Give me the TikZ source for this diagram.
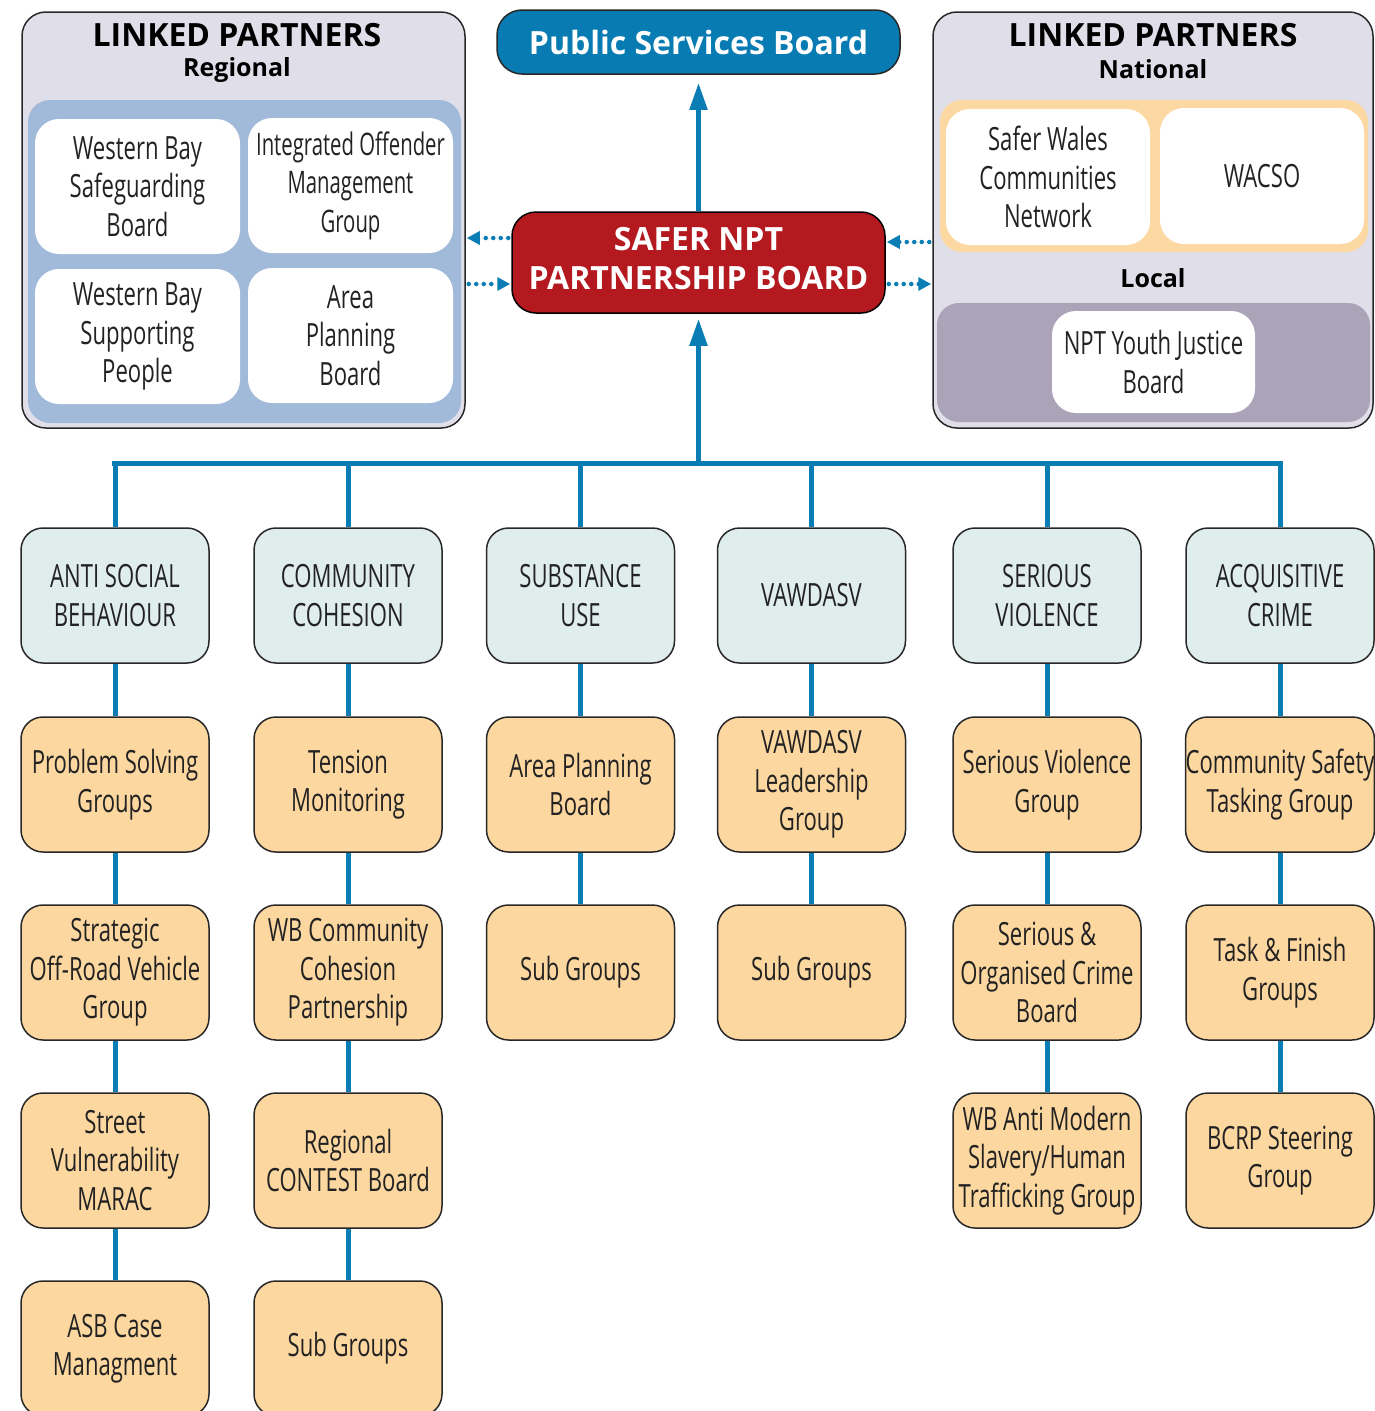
\documentclass[tikz,border=0pt]{standalone}
\usepackage{fontspec}
\setmainfont{Open Sans}
\newfontfamily\cond[FakeStretch=0.69]{Open Sans}
\newfontfamily\condnarrow[FakeStretch=0.655]{Open Sans}
\usetikzlibrary{arrows.meta}
\definecolor{lineblue}{RGB}{10,125,180}
\definecolor{psbfill}{RGB}{8,124,178}
\definecolor{saferred}{RGB}{179,25,31}
\definecolor{lpfill}{RGB}{224,223,233}
\definecolor{bluepanel}{RGB}{161,186,217}
\definecolor{orangepanel}{RGB}{252,217,162}
\definecolor{purplepanel}{RGB}{171,163,184}
\definecolor{catfill}{RGB}{223,237,236}
\definecolor{subfill}{RGB}{252,215,160}
\definecolor{edge}{RGB}{40,40,40}
\definecolor{txt}{RGB}{34,34,34}
\tikzset{
  box/.style={draw=edge, line width=1.5pt, rounded corners=22pt,
    minimum width=188pt, minimum height=135pt, inner sep=0pt, align=center,
    text=txt, font=\cond\fontsize{32}{38.5}\selectfont},
  cat/.style={box, fill=catfill},
  subbox/.style={box, fill=subfill},
  container/.style={draw=edge, line width=1.5pt, fill=lpfill, rounded corners=24pt, inner sep=0pt},
  panel/.style={rounded corners=22pt, inner sep=0pt},
  whitebox/.style={fill=white, rounded corners=24pt, inner sep=0pt, align=center,
    text=txt, font=\cond\fontsize{32}{38.5}\selectfont},
  headtitle/.style={font=\bfseries\fontsize{32}{32}\selectfont, text=black, inner sep=0pt},
  headsub/.style={font=\bfseries\fontsize{25}{25}\selectfont, text=black, inner sep=0pt},
  link/.style={draw=lineblue, line width=5pt},
  mainarrow/.style={draw=lineblue, line width=5pt, -{Triangle[length=27pt,width=17pt]}},
  dotarrow/.style={draw=lineblue, fill=lineblue, line width=4.5pt, line cap=round,
    dash pattern=on 0pt off 7.5pt, -{Triangle[length=13pt,width=13pt]}},
}
\begin{document}
\begin{tikzpicture}[x=1pt,y=-1pt]
\useasboundingbox (0,0) rectangle (1374,1411);
\fill[white] (0,0) rectangle (1374,1411);

% ---------- left linked partners (regional)
\node[container, minimum width=443pt, minimum height=416pt] (lpr) at (243.5,220) {};
\node[headtitle] (lprt) at (237,35) {LINKED PARTNERS};
\node[headsub] (lprs) at (237,70.5) {Regional};
\node[panel, fill=bluepanel, minimum width=433pt, minimum height=323pt] (bpan) at (244.5,261.5) {};
\node[whitebox, minimum width=205pt, minimum height=135pt] (wbsb) at (137.5,186.5) {Western Bay\\Safeguarding\\Board};
\node[whitebox, minimum width=205pt, minimum height=135pt, font=\condnarrow\fontsize{31}{38.5}\selectfont] (iomg) at (350.5,185.5) {Integrated Offender\\Management\\Group};
\node[whitebox, minimum width=205pt, minimum height=135pt] (wbsp) at (137.5,336.5) {Western Bay\\Supporting\\People};
\node[whitebox, minimum width=205pt, minimum height=135pt] (apbr) at (350.5,335.5) {Area\\Planning\\Board};

% ---------- right linked partners (national / local)
\node[container, minimum width=440pt, minimum height=416pt] (lpn) at (1153,220) {};
\node[headtitle] (lpnt) at (1153,35) {LINKED PARTNERS};
\node[headsub] (lpns) at (1153,69) {National};
\node[panel, fill=orangepanel, minimum width=428pt, minimum height=152pt] (opan) at (1154,176) {};
\node[whitebox, minimum width=204pt, minimum height=136pt] (swcn) at (1048,177) {Safer Wales\\Communities\\Network};
\node[whitebox, minimum width=204pt, minimum height=136pt] (wacso) at (1262,176) {WACSO};
\node[headsub] (lpnl) at (1153,278) {Local};
\node[panel, fill=purplepanel, minimum width=433pt, minimum height=119pt] (ppan) at (1153.5,362.5) {};
\node[whitebox, minimum width=203pt, minimum height=102pt] (nptyj) at (1153.5,362) {NPT Youth Justice\\Board};

% ---------- centre boards
\node[draw=edge, line width=1.5pt, fill=psbfill, rounded corners=25pt, minimum width=403pt, minimum height=64pt,
  inner sep=0pt, text=white, font=\bfseries\fontsize{32}{32}\selectfont] (psb) at (698.5,42) {Public Services Board};
\node[draw=black, line width=1.5pt, fill=saferred, rounded corners=24pt, minimum width=373pt, minimum height=101pt,
  inner sep=0pt, text=white, font=\bfseries\fontsize{32}{39}\selectfont] (safer) at (698.5,262.5)
  {\raisebox{5pt}{\begin{tabular}{@{}c@{}}SAFER NPT\\PARTNERSHIP BOARD\end{tabular}}};

\coordinate (busL) at (114.5,463);
\coordinate (busM) at (698.5,463);
\coordinate (busR) at (1280,463);

\draw[mainarrow, shorten >=8pt] (safer.north) -- (psb.south);
\draw[mainarrow, shorten >=5pt] (busM) -- (safer.south);

\draw[dotarrow, shorten <=3pt, shorten >=1pt] (safer.west |- 0,238) -- (lpr.east |- 0,238);
\draw[dotarrow, shorten <=3pt, shorten >=1pt] (lpr.east |- 0,284) -- (safer.west |- 0,284);
\draw[dotarrow, shorten <=3pt, shorten >=1pt] (lpn.west |- 0,242) -- (safer.east |- 0,242);
\draw[dotarrow, shorten <=3pt, shorten >=1pt] (safer.east |- 0,284) -- (lpn.west |- 0,284);

% ---------- categories
\node[cat] (c1) at (115,595.5) {ANTI SOCIAL\\BEHAVIOUR};
\node[cat] (c2) at (348,595.5) {COMMUNITY\\COHESION};
\node[cat] (c3) at (580.5,595.5) {SUBSTANCE\\USE};
\node[cat] (c4) at (811.5,595.5) {VAWDASV};
\node[cat] (c5) at (1047,595.5) {SERIOUS\\VIOLENCE};
\node[cat] (c6) at (1280,595.5) {ACQUISITIVE\\CRIME};

% row 2
\node[subbox] (a2) at (115,784.5) {Problem Solving\\Groups};
\node[subbox] (b2) at (348,784.5) {Tension\\Monitoring};
\node[subbox] (d2) at (580.5,784.5) {Area Planning\\Board};
\node[subbox] (e2) at (811.5,784.5) {VAWDASV\\Leadership\\Group};
\node[subbox] (f2) at (1047,784.5) {Serious Violence\\Group};
\node[subbox] (g2) at (1280,784.5) {Community Safety\\Tasking Group};
% row 3
\node[subbox] (a3) at (115,972.5) {Strategic\\Off-Road Vehicle\\Group};
\node[subbox] (b3) at (348,972.5) {WB Community\\Cohesion\\Partnership};
\node[subbox] (d3) at (580.5,972.5) {Sub Groups};
\node[subbox] (e3) at (811.5,972.5) {Sub Groups};
\node[subbox] (f3) at (1047,972.5) {Serious \&\\Organised Crime\\Board};
\node[subbox] (g3) at (1280,972.5) {Task \& Finish\\Groups};
% row 4
\node[subbox] (a4) at (115,1160.5) {Street\\Vulnerability\\MARAC};
\node[subbox] (b4) at (348,1160.5) {Regional\\CONTEST Board};
\node[subbox] (f4) at (1047,1160.5) {WB Anti Modern\\Slavery/Human\\Trafficking Group};
\node[subbox] (g4) at (1280,1160.5) {BCRP Steering\\Group};
% row 5
\node[subbox] (a5) at (115,1348.5) {ASB Case\\Managment};
\node[subbox] (b5) at (348,1348.5) {Sub Groups};

% ---------- connectors
\draw[link, line cap=rect] (busL) -- (busR);
\foreach \c in {c1,c2,c3,c4,c5,c6} {\draw[link] (\c.north) -- (\c.north |- busM);}
\draw[link] (c1.south) -- (a2.north);
\draw[link] (a2.south) -- (a3.north);
\draw[link] (a3.south) -- (a4.north);
\draw[link] (a4.south) -- (a5.north);
\draw[link] (c2.south) -- (b2.north);
\draw[link] (b2.south) -- (b3.north);
\draw[link] (b3.south) -- (b4.north);
\draw[link] (b4.south) -- (b5.north);
\draw[link] (c3.south) -- (d2.north);
\draw[link] (d2.south) -- (d3.north);
\draw[link] (c4.south) -- (e2.north);
\draw[link] (e2.south) -- (e3.north);
\draw[link] (c5.south) -- (f2.north);
\draw[link] (f2.south) -- (f3.north);
\draw[link] (f3.south) -- (f4.north);
\draw[link] (c6.south) -- (g2.north);
\draw[link] (g2.south) -- (g3.north);
\draw[link] (g3.south) -- (g4.north);
\end{tikzpicture}
\end{document}
